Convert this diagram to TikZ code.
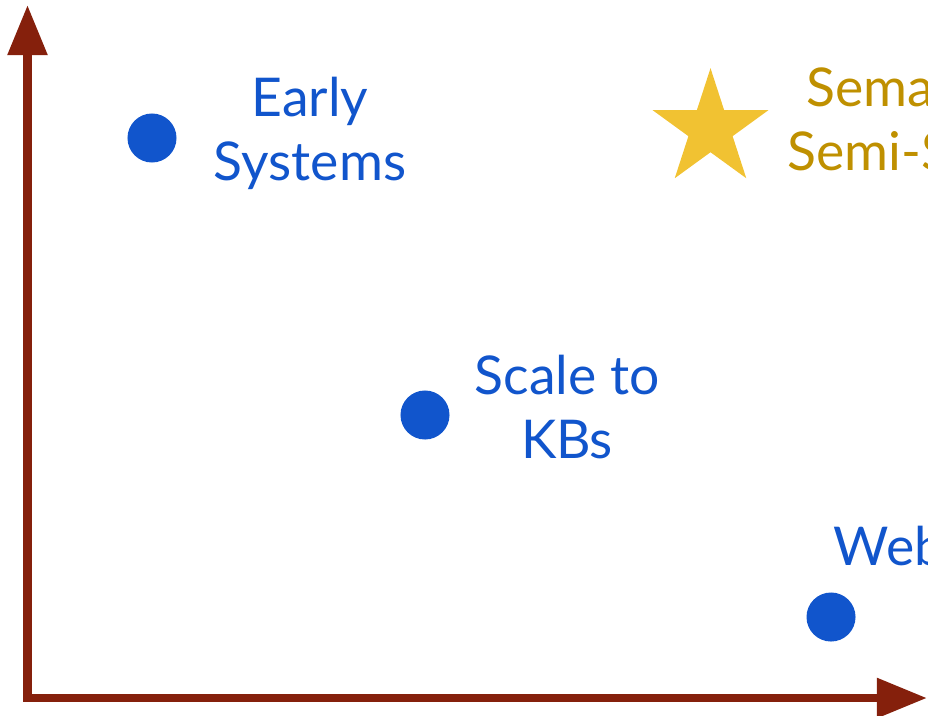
\documentclass[tikz,border=0pt]{standalone}
\usepackage{fontspec}
\setmainfont{Lato}
\usepackage{tikz}
\usetikzlibrary{arrows.meta,shapes.geometric}
\definecolor{dotblue}{RGB}{17,85,204}
\definecolor{stargold}{RGB}{241,194,50}
\definecolor{textgold}{RGB}{191,144,0}
\definecolor{axisred}{RGB}{133,32,12}
\newcommand\lblfont{\fontsize{15.2}{18.2}\selectfont}

\begin{document}
\begin{tikzpicture}[x=.01cm,y=-.01cm,>={Triangle[length=.5cm,width=.38cm]},
 dot/.style={circle,fill=dotblue,minimum size=.49cm,inner sep=0},
 lbl/.style={font=\lblfont,text=dotblue,align=center,inner sep=0,anchor=base},
 axis/.style={draw=axisred,line width=.085cm}]
 \useasboundingbox (0,0) rectangle (928,715);
 \clip (0,0) rectangle (928,715);
 \coordinate (o) at (27.5,698);
 \coordinate (ytop) at (27.5,5);
 \coordinate (xend) at (927,698);
 \draw[axis,<->] (ytop)--(o)--(xend);
 \node[dot] (early) at (152,138) {};
 \node[lbl] (earlyl) at (310,180) {Early\\Systems};
 \node[dot] (scale) at (425,415) {};
 \node[lbl] (scalel) at (567,458) {Scale to\\KBs};
 \node[dot] (web) at (831,617) {};
 \node[lbl,anchor=base west] (webl) at (833,565) {Web};
 \node[star,star points=5,star point ratio=2.618,fill=stargold,
  minimum size=1.216cm,inner sep=0] (sem) at (710.5,129) {};
 \node[lbl,text=textgold,align=left,anchor=base west] (seml) at (787,170)
  {\hspace*{.19cm}Sema\\Semi-S};
\end{tikzpicture}
\end{document}
